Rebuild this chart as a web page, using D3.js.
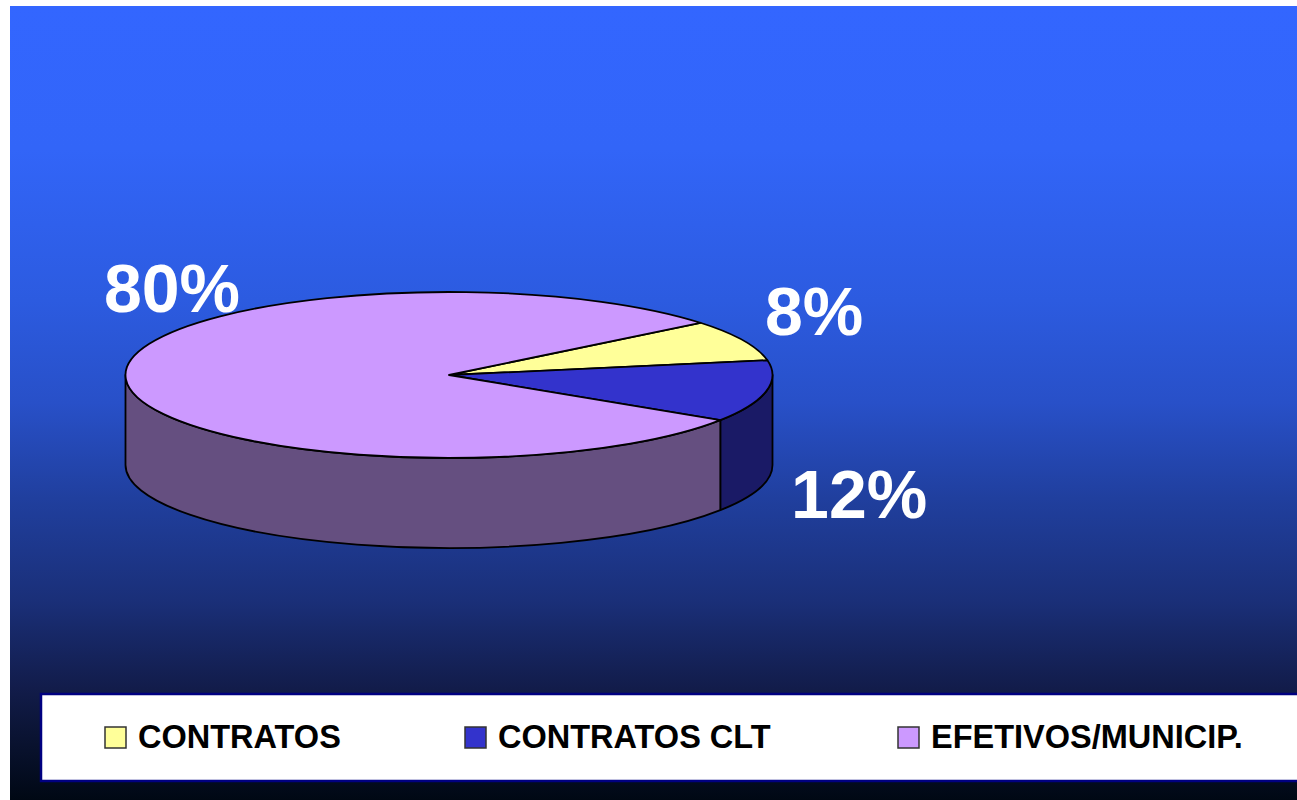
<!DOCTYPE html>
<html>
<head>
<meta charset="utf-8">
<script src="https://cdn.jsdelivr.net/npm/d3@7"></script>
<style>
  html, body { margin: 0; padding: 0; background: #ffffff; }
  svg { display: block; }
</style>
</head>
<body>
<svg id="chart" width="1297" height="800"></svg>
<script>
// data
const categories = ["CONTRATOS", "CONTRATOS CLT", "EFETIVOS/MUNICIP."];
const values = [8, 12, 80];
const labels = ["8%", "12%", "80%"];

const topColors = ["#ffff99", "#3333cc", "#cc99ff"];
const sideColors = ["#80804d", "#1a1a66", "#654f80"];

const width = 1297, height = 800;
const cx = 449, cy = 375, rx = 323.5, ry = 83, depth = 90;

const svg = d3.select("#chart");

// background gradient
const defs = svg.append("defs");
const grad = defs.append("linearGradient")
    .attr("id", "bg").attr("x1", 0).attr("y1", 0).attr("x2", 0).attr("y2", 1);
[[0, "#3366ff"], [0.18, "#3265f8"], [0.37, "#2c5be0"], [0.5, "#2850c8"],
 [0.62, "#203f9e"], [0.75, "#1a2f78"], [0.86, "#121c4a"], [1, "#000814"]]
    .forEach(s => grad.append("stop").attr("offset", s[0]).attr("stop-color", s[1]));

svg.append("rect")
    .attr("x", 10).attr("y", 6)
    .attr("width", width - 10).attr("height", height - 6)
    .attr("fill", "url(#bg)");

const color = d3.scaleOrdinal().domain(categories).range(topColors);
const side = d3.scaleOrdinal().domain(categories).range(sideColors);

const start = 51 * Math.PI / 180;
const pie = d3.pie()
    .sort(null)
    .value(d => d.value)
    .startAngle(start)
    .endAngle(start + 2 * Math.PI);

const data = categories.map((c, i) => ({ name: c, value: values[i], label: labels[i] }));
const arcs = pie(data);

// point on the top ellipse for a pie angle (clockwise from 12 o'clock)
function pt(a, dy = 0) {
  return [cx + rx * Math.sin(a), cy - ry * Math.cos(a) + dy];
}

const g = svg.append("g");

// front walls (visible between 3 o'clock and 9 o'clock)
arcs.forEach(d => {
  const lo = Math.PI / 2, hi = 3 * Math.PI / 2;
  [[d.startAngle, d.endAngle], [d.startAngle - 2 * Math.PI, d.endAngle - 2 * Math.PI]].forEach(([s, e]) => {
    const a0 = Math.max(s, lo), a1 = Math.min(e, hi);
    if (a1 <= a0) return;
    const p0 = pt(a0), p1 = pt(a1), q1 = pt(a1, depth), q0 = pt(a0, depth);
    const path = `M${p0}A${rx},${ry} 0 0 1 ${p1}L${q1}A${rx},${ry} 0 0 0 ${q0}Z`;
    g.append("path")
        .attr("d", path)
        .attr("fill", side(d.data.name))
        .attr("stroke", "#000")
        .attr("stroke-width", 1.8)
        .attr("stroke-linejoin", "round");
  });
});

// top faces
arcs.forEach(d => {
  const p0 = pt(d.startAngle), p1 = pt(d.endAngle);
  const large = (d.endAngle - d.startAngle) > Math.PI ? 1 : 0;
  g.append("path")
      .attr("d", `M${cx},${cy}L${p0}A${rx},${ry} 0 ${large} 1 ${p1}Z`)
      .attr("fill", color(d.data.name))
      .attr("stroke", "#000")
      .attr("stroke-width", 1.8)
      .attr("stroke-linejoin", "round");
});

// percentage labels, nudged from the slice's mid point on the rim
const labelNudge = [[71, -29], [93, 103], [46, -91]];
arcs.forEach((d, i) => {
  const m = (d.startAngle + d.endAngle) / 2;
  const [x, y] = pt(m);
  g.append("text")
      .attr("x", x + labelNudge[i][0])
      .attr("y", y + labelNudge[i][1])
      .attr("text-anchor", "middle")
      .attr("dominant-baseline", "central")
      .attr("fill", "#ffffff")
      .attr("font-family", "'Liberation Sans', Arial, sans-serif")
      .attr("font-weight", "bold")
      .attr("font-size", 68)
      .text(d.data.label);
});

// legend
const legend = svg.append("g");
legend.append("rect")
    .attr("x", 41).attr("y", 694)
    .attr("width", width + 10).attr("height", 87)
    .attr("fill", "#ffffff")
    .attr("stroke", "#000080")
    .attr("stroke-width", 2.5);

const legendX = [105, 465, 898];
categories.forEach((c, i) => {
  const item = legend.append("g").attr("transform", `translate(${legendX[i]},727)`);
  item.append("rect")
      .attr("width", 21).attr("height", 21)
      .attr("fill", color(c))
      .attr("stroke", "#333")
      .attr("stroke-width", 1.5);
  item.append("text")
      .attr("x", 33).attr("y", 21)
      .attr("fill", "#000")
      .attr("font-family", "'Liberation Sans', Arial, sans-serif")
      .attr("font-weight", "bold")
      .attr("font-size", 32.5)
      .text(c);
});
</script>
</body>
</html>
